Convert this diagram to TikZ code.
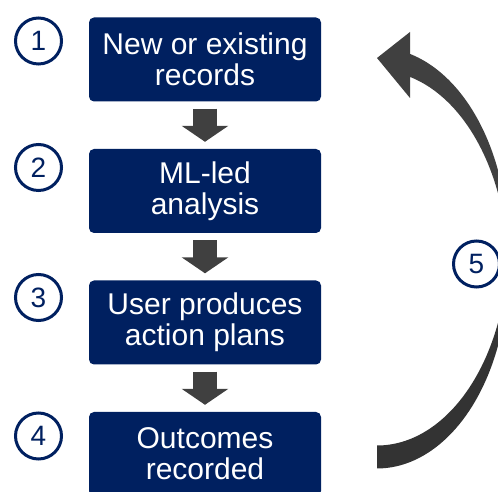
\documentclass[tikz,border=0pt]{standalone}
\usepackage{fontspec}
\setmainfont{Liberation Sans}
\usetikzlibrary{arrows.meta,calc}
\definecolor{navy}{HTML}{002060}
\definecolor{arrgray}{HTML}{404040}
\definecolor{arrdark}{HTML}{333333}
\begin{document}
\begin{tikzpicture}[x=1pt,y=1pt,
  stepbox/.style={fill=navy, rounded corners=5pt, minimum width=232pt, minimum height=84pt,
    text=white, align=center, font=\fontsize{30}{31}\selectfont, inner sep=0pt},
  numcirc/.style={circle, draw=navy, line width=3pt, minimum size=46pt, inner sep=0pt,
    text=navy, font=\fontsize{28}{28}\selectfont},
  downarrow/.style={draw=arrgray, line width=24pt, -{Triangle[width=46pt,length=16pt]}},
  ellarc/.style={x radius=131pt, y radius=199pt}
]
\useasboundingbox (0,0) rectangle (498,492);
\begin{scope}
\clip (0,0) rectangle (498,492);
% boxes
\node[stepbox] (b1) at (205,432.5) {New or existing\\records};
\node[stepbox] (b2) at (205,301) {ML-led\\analysis};
\node[stepbox] (b3) at (205,169.5) {User produces\\action plans};
\node[stepbox] (b4) at (205,38) {Outcomes\\recorded};
% number circles
\node[numcirc] (c1) at (38.5,451) {1};
\node[numcirc] (c2) at (38.5,324.5) {2};
\node[numcirc] (c3) at (38.5,194.5) {3};
\node[numcirc] (c4) at (38.5,56) {4};
% down arrows
\draw[downarrow] ($(b1.south)+(0,-7)$) -- ($(b2.north)+(0,7)$);
\draw[downarrow] ($(b2.south)+(0,-7)$) -- ($(b3.north)+(0,7)$);
\draw[downarrow] ($(b3.south)+(0,-7)$) -- ($(b4.north)+(0,7)$);
% curved return arrow
\coordinate (e1) at (377,245.5);
\coordinate (e2) at (377,222.5);
\fill[arrdark] (e2) ++(3.31:131pt and 199pt)
  arc[start angle=3.31, end angle=-90, ellarc]
  -- ($(e1)+(0,-199)$)
  arc[start angle=-90, end angle=-3.31, ellarc] -- cycle;
\fill[arrgray] (e1) ++(75.41:131pt and 199pt)
  arc[start angle=75.41, end angle=-3.31, ellarc]
  arc[start angle=3.31, end angle=75.41, ellarc]
  -- (410,394) -- (377,434) -- (410,460) -- cycle;
\node[numcirc] (c5) at (476.5,228) {5};
\end{scope}
\end{tikzpicture}
\end{document}
